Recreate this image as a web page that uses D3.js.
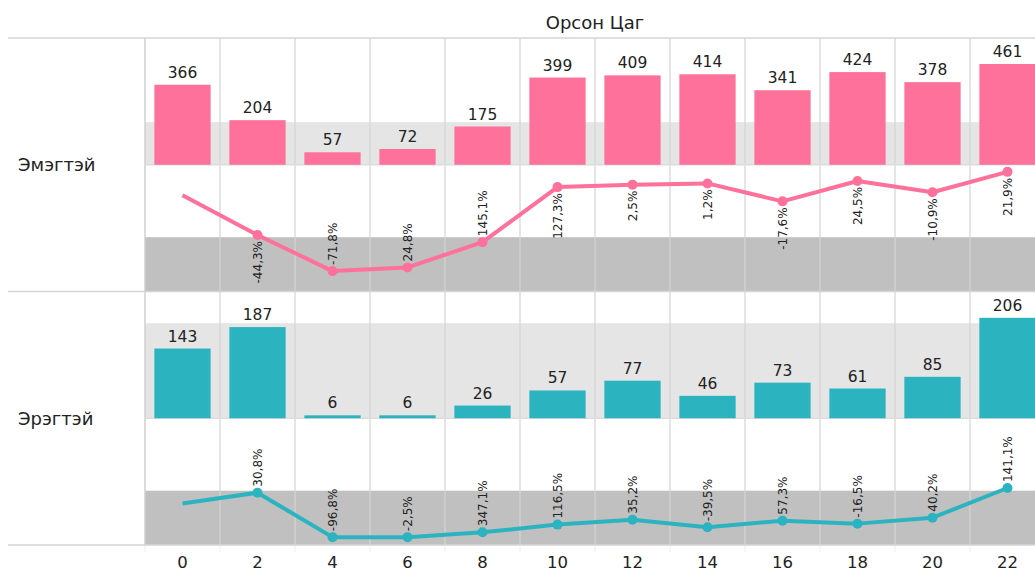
<!DOCTYPE html>
<html lang="mn">
<head>
<meta charset="UTF-8">
<title>Орсон Цаг</title>
<style>
  body { margin: 0; background: #fff; }
  svg { display: block; font-family: "DejaVu Sans", Verdana, sans-serif; }
</style>
</head>
<body>
<svg id="chart" width="1035" height="572"></svg>
<script src="https://cdn.jsdelivr.net/npm/d3@7"></script>
<script>
// data
const hours = [0, 2, 4, 6, 8, 10, 12, 14, 16, 18, 20, 22];
const rowNames = ["Эмэгтэй", "Эрэгтэй"];
const femaleCounts = [366, 204, 57, 72, 175, 399, 409, 414, 341, 424, 378, 461];
const maleCounts = [143, 187, 6, 6, 26, 57, 77, 46, 73, 61, 85, 206];
const femaleChange = [null, -44.3, -71.8, 24.8, 145.1, 127.3, 2.5, 1.2, -17.6, 24.5, -10.9, 21.9];
const maleChange = [null, 30.8, -96.8, -2.5, 347.1, 116.5, 35.2, -39.5, 57.3, -16.5, 40.2, 141.1];
const bandLimit = 195; // reference band, 0..195

const svg = d3.select("#chart");
const plotLeft = 145, plotTop = 38, panelH = 126.75;
const pink = "#fd719b", teal = "#2bb3c0";

const x = d3.scaleBand().domain(hours).range([plotLeft, plotLeft + 75 * hours.length]);
const barW = x.bandwidth() * 0.75;

const rows = [
  { name: rowNames[0], counts: femaleCounts, change: femaleChange, color: pink, barMax: 580 },
  { name: rowNames[1], counts: maleCounts, change: maleChange, color: teal, barMax: 260 }
];

const fmtPct = v => d3.format(".1f")(v).replace(".", ",").replace("−", "-") + "%";

const gBands = svg.append("g");
const gGrid = svg.append("g");
const gMarks = svg.append("g");

rows.forEach((r, i) => {
  const barTop = plotTop + i * 2 * panelH;
  const barBottom = barTop + panelH;
  const lineTop = barBottom;
  const lineBottom = lineTop + panelH;

  const yBar = d3.scaleLinear().domain([0, r.barMax]).range([barBottom, barTop]);
  const yLine = d3.scaleLinear().domain([-26, 490]).range([lineBottom, lineTop]);

  // reference bands
  gBands.append("rect")
    .attr("x", plotLeft).attr("width", x.range()[1] - plotLeft)
    .attr("y", yBar(bandLimit)).attr("height", yBar(0) - yBar(bandLimit))
    .attr("fill", "#e5e5e5");
  gBands.append("rect")
    .attr("x", plotLeft).attr("width", x.range()[1] - plotLeft)
    .attr("y", yLine(bandLimit)).attr("height", lineBottom - yLine(bandLimit))
    .attr("fill", "#c0c0c0");

  // row header
  svg.append("text")
    .attr("x", 18).attr("y", (barTop + lineBottom) / 2)
    .attr("dy", "0.35em")
    .attr("font-size", 18).attr("fill", "#222")
    .text(r.name);

  // bars
  gMarks.append("g").selectAll("rect")
    .data(r.counts)
    .join("rect")
    .attr("x", (d, j) => x(hours[j]) + (x.bandwidth() - barW) / 2)
    .attr("width", barW)
    .attr("y", d => yBar(d))
    .attr("height", d => yBar(0) - yBar(d))
    .attr("fill", r.color);

  gMarks.append("g").selectAll("text")
    .data(r.counts)
    .join("text")
    .attr("x", (d, j) => x(hours[j]) + x.bandwidth() / 2)
    .attr("y", d => yBar(d) - 7)
    .attr("text-anchor", "middle")
    .attr("font-size", 15.5).attr("fill", "#222")
    .text(d => d);

  // line of counts
  const cx = (d, j) => x(hours[j]) + x.bandwidth() / 2;
  const line = d3.line().x(cx).y(d => yLine(d));
  gMarks.append("path")
    .datum(r.counts)
    .attr("d", line)
    .attr("fill", "none")
    .attr("stroke", r.color)
    .attr("stroke-width", 4)
    .attr("stroke-linejoin", "round");

  gMarks.append("g").selectAll("circle")
    .data(r.counts.slice(1))
    .join("circle")
    .attr("cx", (d, j) => cx(d, j + 1))
    .attr("cy", d => yLine(d))
    .attr("r", 5)
    .attr("fill", r.color);

  // % change labels: above when rising, else below, flip if no room
  const gap = 6;
  r.change.forEach((c, j) => {
    if (c == null) return;
    const px = cx(null, j), py = yLine(r.counts[j]);
    const t = gMarks.append("text")
      .attr("font-size", 12).attr("fill", "#222")
      .attr("dy", "0.35em")
      .text(fmtPct(c));
    const len = t.node().getComputedTextLength();
    const fitsUp = py - gap - len >= lineTop;
    const fitsDown = py + gap + len <= lineBottom;
    let up = r.counts[j] >= r.counts[j - 1];
    if (up && !fitsUp) up = false;
    else if (!up && !fitsDown) up = true;
    t.attr("text-anchor", up ? "start" : "end")
      .attr("transform", `translate(${px},${up ? py - gap : py + gap}) rotate(-90)`);
  });
});

// grid lines
const plotBottom = plotTop + 4 * panelH;
x.domain().forEach((h, j) => {
  gGrid.append("line")
    .attr("x1", x(h)).attr("x2", x(h))
    .attr("y1", plotTop).attr("y2", plotBottom)
    .attr("stroke", j === 0 ? "#cfcfcf" : "#d4d4d4")
    .attr("stroke-width", j === 0 ? 1.5 : 1.2);
  gGrid.append("line")
    .attr("x1", x(h)).attr("x2", x(h))
    .attr("y1", plotBottom).attr("y2", plotBottom + 7)
    .attr("stroke", "#eeeeee");
});
[1, 3].forEach(k => {
  gGrid.append("line")
    .attr("x1", plotLeft).attr("x2", 1035)
    .attr("y1", plotTop + k * panelH).attr("y2", plotTop + k * panelH)
    .attr("stroke", "#dcdcdc").attr("stroke-width", 1.5);
});
[0, 2, 4].forEach(k => {
  svg.append("line")
    .attr("x1", 8).attr("x2", 1035)
    .attr("y1", plotTop + k * panelH).attr("y2", plotTop + k * panelH)
    .attr("stroke", "#d4d4d4").attr("stroke-width", 1.5);
});

// hour axis
svg.append("g").selectAll("text")
  .data(hours)
  .join("text")
  .attr("x", d => x(d) + x.bandwidth() / 2)
  .attr("y", 568)
  .attr("text-anchor", "middle")
  .attr("font-size", 16.5).attr("fill", "#222")
  .text(d => d);

// title
svg.append("text")
  .attr("x", (x.range()[0] + x.range()[1]) / 2)
  .attr("y", 29)
  .attr("text-anchor", "middle")
  .attr("font-size", 18).attr("fill", "#222")
  .text("Орсон Цаг");
</script>
</body>
</html>
